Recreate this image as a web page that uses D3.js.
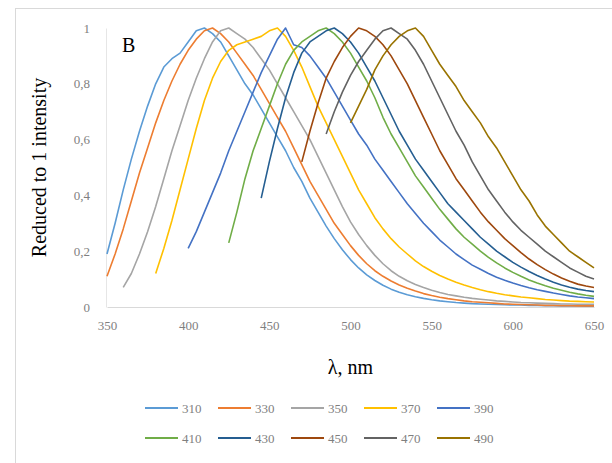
<!DOCTYPE html>
<html>
<head>
<meta charset="utf-8">
<script src="https://cdn.jsdelivr.net/npm/d3@7/dist/d3.min.js"></script>
<style>
  html, body { margin: 0; padding: 0; background: #fff; }
  svg { display: block; }
</style>
</head>
<body>
<svg id="chart" width="612" height="463"></svg>
<script>
// ---------- data ----------
const wavelengths = [350,355,360,365,370,375,380,385,390,395,400,405,410,415,420,425,430,435,440,445,
  450,455,460,465,470,475,480,485,490,495,500,505,510,515,520,525,530,535,540,545,
  550,555,560,565,570,575,580,585,590,595,600,605,610,615,620,625,630,635,640,645,650];

const seriesNames = ["310","330","350","370","390","410","430","450","470","490"];
const seriesColors = ["#5B9BD5","#ED7D31","#A5A5A5","#FFC000","#4472C4","#70AD47","#255E91","#9E480E","#636363","#997300"];

const s310 = [0.19,0.30,0.42,0.53,0.63,0.72,0.80,0.86,0.89,0.91,
  0.95,0.99,1.00,0.98,0.95,0.90,0.85,0.80,0.76,0.71,
  0.66,0.61,0.56,0.50,0.45,0.39,0.34,0.29,0.245,0.205,
  0.17,0.14,0.115,0.095,0.078,0.064,0.053,0.044,0.037,0.031,
  0.026,0.022,0.019,0.016,0.014,0.012,0.011,0.01,0.009,0.008,
  0.007,0.007,0.006,0.006,0.005,0.005,0.004,0.004,0.004,0.003,0.003];
const s330 = [0.11,0.19,0.28,0.38,0.48,0.57,0.66,0.74,0.81,0.87,
  0.92,0.96,0.99,1.00,0.98,0.95,0.91,0.87,0.83,0.78,
  0.73,0.68,0.63,0.57,0.51,0.45,0.40,0.35,0.30,0.26,
  0.22,0.185,0.155,0.13,0.11,0.093,0.079,0.067,0.057,0.048,
  0.041,0.035,0.03,0.026,0.022,0.019,0.017,0.015,0.013,0.011,
  0.01,0.009,0.008,0.007,0.006,0.006,0.005,0.005,0.004,0.004,0.004];
const s350 = [null,null,0.07,0.12,0.19,0.27,0.36,0.46,0.56,0.65,
  0.74,0.82,0.89,0.95,0.99,1.00,0.98,0.96,0.93,0.89,
  0.85,0.80,0.75,0.70,0.65,0.60,0.54,0.48,0.42,0.36,
  0.305,0.26,0.22,0.185,0.155,0.13,0.11,0.094,0.081,0.07,
  0.06,0.052,0.045,0.04,0.035,0.031,0.028,0.025,0.022,0.02,
  0.018,0.016,0.015,0.014,0.013,0.012,0.011,0.011,0.01,0.01,0.01];
const s370 = [null,null,null,null,null,null,0.12,0.21,0.31,0.42,
  0.53,0.64,0.74,0.82,0.88,0.92,0.94,0.95,0.96,0.97,
  0.99,1.00,0.97,0.92,0.86,0.79,0.72,0.66,0.60,0.54,
  0.48,0.42,0.37,0.32,0.28,0.245,0.215,0.19,0.165,0.145,
  0.128,0.113,0.10,0.089,0.079,0.07,0.062,0.055,0.049,0.044,
  0.04,0.036,0.033,0.03,0.027,0.025,0.023,0.021,0.02,0.019,0.018];
const s390 = [null,null,null,null,null,null,null,null,null,null,
  0.21,0.27,0.34,0.41,0.48,0.56,0.63,0.70,0.77,0.84,
  0.90,0.96,1.00,0.94,0.93,0.90,0.86,0.82,0.77,0.72,
  0.67,0.62,0.58,0.53,0.49,0.45,0.41,0.37,0.335,0.30,
  0.27,0.24,0.215,0.19,0.17,0.15,0.135,0.12,0.107,0.096,
  0.086,0.077,0.069,0.062,0.056,0.05,0.045,0.04,0.036,0.033,0.03];
const s410 = [null,null,null,null,null,null,null,null,null,null,
  null,null,null,null,null,0.23,0.34,0.46,0.56,0.64,
  0.72,0.80,0.87,0.92,0.95,0.97,0.99,1.00,0.98,0.95,
  0.91,0.86,0.81,0.75,0.68,0.62,0.57,0.52,0.47,0.43,
  0.39,0.35,0.315,0.28,0.25,0.225,0.20,0.178,0.158,0.14,
  0.124,0.11,0.097,0.086,0.076,0.067,0.06,0.053,0.047,0.042,0.038];
const s430 = [null,null,null,null,null,null,null,null,null,null,
  null,null,null,null,null,null,null,null,null,0.39,
  0.52,0.64,0.75,0.84,0.91,0.95,0.97,0.99,1.00,0.98,
  0.95,0.91,0.86,0.81,0.75,0.69,0.63,0.58,0.53,0.49,
  0.45,0.41,0.37,0.34,0.31,0.28,0.25,0.225,0.20,0.18,
  0.16,0.143,0.127,0.113,0.10,0.089,0.079,0.071,0.064,0.059,0.055];
const s450 = [null,null,null,null,null,null,null,null,null,null,
  null,null,null,null,null,null,null,null,null,null,
  null,null,null,null,0.52,0.63,0.73,0.82,0.88,0.93,
  0.97,1.00,0.99,0.97,0.94,0.90,0.85,0.80,0.74,0.68,
  0.62,0.56,0.51,0.46,0.42,0.38,0.34,0.305,0.275,0.245,
  0.22,0.195,0.172,0.152,0.134,0.118,0.104,0.092,0.082,0.075,0.07];
const s470 = [null,null,null,null,null,null,null,null,null,null,
  null,null,null,null,null,null,null,null,null,null,
  null,null,null,null,null,null,null,0.62,0.70,0.77,
  0.83,0.88,0.92,0.96,0.99,1.00,0.98,0.96,0.92,0.87,
  0.81,0.75,0.69,0.63,0.58,0.52,0.47,0.42,0.38,0.34,
  0.305,0.275,0.25,0.225,0.20,0.18,0.16,0.14,0.125,0.11,0.10];
const s490 = [null,null,null,null,null,null,null,null,null,null,
  null,null,null,null,null,null,null,null,null,null,
  null,null,null,null,null,null,null,null,null,null,
  0.66,0.72,0.78,0.85,0.90,0.94,0.97,0.99,1.00,0.97,
  0.92,0.87,0.83,0.79,0.74,0.70,0.66,0.61,0.57,0.52,
  0.47,0.42,0.38,0.33,0.29,0.26,0.23,0.20,0.18,0.16,0.14];

const seriesValues = [s310,s330,s350,s370,s390,s410,s430,s450,s470,s490];

const xTicks = [350,400,450,500,550,600,650];
const yTicks = [0,0.2,0.4,0.6,0.8,1];
const yTickLabels = ["0","0,2","0,4","0,6","0,8","1"];

// ---------- layout ----------
const svg = d3.select("#chart");
const W = 612, H = 463;
const plot = {left: 107, right: 594, top: 28, bottom: 307};
const serif = "'Liberation Serif', 'Times New Roman', serif";

svg.append("rect").attr("width", W).attr("height", H).attr("fill", "#fff");
// chart border (top/left visible)
svg.append("rect").attr("x", 15.5).attr("y", 8.5).attr("width", 640).attr("height", 480)
  .attr("fill", "none").attr("stroke", "#d9d9d9").attr("stroke-width", 1);

const x = d3.scaleLinear().domain([350, 650]).range([plot.left, plot.right]);
const y = d3.scaleLinear().domain([0, 1]).range([plot.bottom, plot.top]);

// axes
const xAxis = d3.axisBottom(x).tickValues(xTicks).tickSize(0).tickPadding(14);
const gx = svg.append("g").attr("transform", `translate(0,${plot.bottom})`).call(xAxis);
gx.select(".domain").attr("stroke", "#d9d9d9").attr("stroke-width", 1.2);
gx.selectAll("text").attr("font-family", serif).attr("font-size", 13).attr("fill", "#7f7f7f");

const yAxis = d3.axisLeft(y).tickValues(yTicks).tickSize(0).tickPadding(16)
  .tickFormat((d, i) => yTickLabels[i]);
const gy = svg.append("g").attr("transform", `translate(${plot.left - 1},0)`).call(yAxis);
gy.select(".domain").attr("stroke", "#e6e6e6").attr("stroke-width", 1);
gy.selectAll("text").attr("font-family", serif).attr("font-size", 13).attr("fill", "#7f7f7f");

// lines
const line = d3.line()
  .defined(d => d[1] != null)
  .x(d => x(d[0]))
  .y(d => y(d[1]));

seriesValues.forEach((vals, k) => {
  const pts = wavelengths.map((w, i) => [w, vals[i]]);
  svg.append("path")
    .datum(pts)
    .attr("d", line)
    .attr("fill", "none")
    .attr("stroke", seriesColors[k])
    .attr("stroke-width", 1.6)
    .attr("stroke-linejoin", "round");
});

// panel label
svg.append("text").attr("x", 122).attr("y", 52).text("B")
  .attr("font-family", serif).attr("font-size", 20).attr("fill", "#000");

// axis titles
svg.append("text").attr("x", (plot.left + plot.right) / 2).attr("y", 374)
  .attr("text-anchor", "middle").text("λ, nm")
  .attr("font-family", serif).attr("font-size", 20).attr("fill", "#000");

svg.append("text")
  .attr("transform", `translate(46,${(plot.top + plot.bottom) / 2}) rotate(-90)`)
  .attr("text-anchor", "middle").text("Reduced to 1 intensity")
  .attr("font-family", serif).attr("font-size", 20).attr("fill", "#000");

// legend
const legendRows = [[0,1,2,3,4],[5,6,7,8,9]];
const legendY = [408, 438];
const legendX0 = 145, itemW = 73, lineLen = 33;
legendRows.forEach((row, r) => {
  row.forEach((k, j) => {
    const g = svg.append("g").attr("transform", `translate(${legendX0 + j * itemW},${legendY[r]})`);
    g.append("line").attr("x1", 0).attr("x2", lineLen).attr("y1", 0).attr("y2", 0)
      .attr("stroke", seriesColors[k]).attr("stroke-width", 2);
    g.append("text").attr("x", lineLen + 4).attr("y", 4.5).text(seriesNames[k])
      .attr("font-family", serif).attr("font-size", 13).attr("fill", "#7f7f7f");
  });
});
</script>
</body>
</html>
